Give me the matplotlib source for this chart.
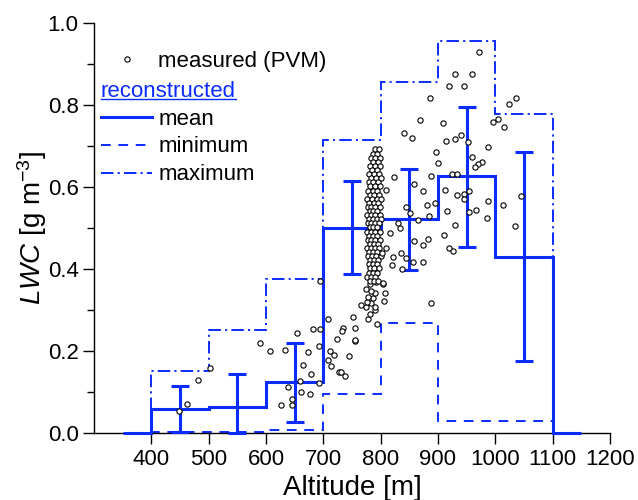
import matplotlib
matplotlib.use('Agg')
import matplotlib.pyplot as plt
from matplotlib.lines import Line2D
from matplotlib.ticker import MultipleLocator
from matplotlib.transforms import IdentityTransform

plt.rcParams['font.family'] = ['Liberation Sans', 'DejaVu Sans']
plt.rcParams['mathtext.fontset'] = 'custom'
plt.rcParams['mathtext.rm'] = 'Liberation Sans'
plt.rcParams['mathtext.it'] = 'Liberation Sans:italic'
plt.rcParams['lines.scale_dashes'] = False

# reconstructed LWC per 100 m altitude bin
bin_edges = [400, 500, 600, 700, 800, 900, 1000, 1100]
bin_centers = [450, 550, 650, 750, 850, 950, 1050]
mean_lwc = [0.060, 0.065, 0.124, 0.501, 0.522, 0.627, 0.431]
min_lwc = [0.002, 0.002, 0.007, 0.096, 0.268, 0.029, 0.029]
max_lwc = [0.153, 0.252, 0.376, 0.715, 0.857, 0.958, 0.779]
err_top = [0.115, 0.145, 0.220, 0.615, 0.644, 0.795, 0.686]
err_bottom = [0.004, 0.000, 0.028, 0.389, 0.398, 0.455, 0.176]
mean_pad = (350, 1150)  # mean curve drawn at zero outside the bins

# measured LWC (PVM) as (altitude, lwc) pairs
pvm_points = [
    # below 750 m
    (448, 0.055), (462, 0.071), (482, 0.131), (503, 0.160), (590, 0.220),
    (607, 0.201), (634, 0.204), (654, 0.244), (673, 0.198), (682, 0.254),
    (694, 0.254), (694, 0.371), (708, 0.278), (723, 0.231), (693, 0.214),
    (664, 0.167), (678, 0.145), (659, 0.128), (639, 0.112), (661, 0.100),
    (677, 0.096), (645, 0.083), (627, 0.070), (645, 0.070), (693, 0.123),
    (712, 0.201), (719, 0.191), (709, 0.180), (714, 0.164), (727, 0.149),
    (730, 0.150), (738, 0.139), (745, 0.189), (755, 0.225), (756, 0.228),
    (735, 0.256), (733, 0.250), (755, 0.258), (751, 0.284),
    # lower tail of the dense profile
    (765, 0.313), (775, 0.309), (778, 0.280), (781, 0.290), (794, 0.266),
    (791, 0.301), (791, 0.309), (784, 0.317), (777, 0.321), (787, 0.329),
    (806, 0.323), (778, 0.333), (791, 0.341), (807, 0.341), (784, 0.347),
    (774, 0.351), (781, 0.364), (792, 0.370), (804, 0.364), (888, 0.317),
    # dense profile around 790 m
    (791, 0.693), (797, 0.693), (786, 0.682), (794, 0.682),
    (783, 0.672), (790, 0.672), (798, 0.672), (787, 0.662), (795, 0.662),
    (782, 0.652), (791, 0.652), (799, 0.652), (785, 0.642), (793, 0.642),
    (780, 0.632), (788, 0.632), (797, 0.632), (784, 0.622), (792, 0.622),
    (800, 0.622), (779, 0.612), (787, 0.612), (795, 0.612), (782, 0.602),
    (790, 0.602), (798, 0.602), (778, 0.592), (786, 0.592), (794, 0.592),
    (781, 0.582), (789, 0.582), (797, 0.582), (777, 0.572), (785, 0.572),
    (793, 0.572), (801, 0.572), (780, 0.562), (788, 0.562), (796, 0.562),
    (778, 0.552), (784, 0.552), (791, 0.552), (799, 0.552), (781, 0.542),
    (787, 0.542), (794, 0.542), (777, 0.532), (783, 0.532), (790, 0.532),
    (798, 0.532), (780, 0.522), (786, 0.522), (793, 0.522), (800, 0.522),
    (778, 0.512), (784, 0.512), (791, 0.512), (797, 0.512), (781, 0.502),
    (787, 0.502), (794, 0.502), (777, 0.492), (783, 0.492), (790, 0.492),
    (798, 0.492), (780, 0.482), (786, 0.482), (793, 0.482), (778, 0.472),
    (784, 0.472), (791, 0.472), (799, 0.472), (781, 0.462), (788, 0.462),
    (795, 0.462), (777, 0.452), (784, 0.452), (790, 0.452), (797, 0.452),
    (780, 0.442), (787, 0.442), (794, 0.442), (778, 0.432), (785, 0.432),
    (792, 0.432), (800, 0.432), (781, 0.422), (788, 0.422), (795, 0.422),
    (779, 0.412), (786, 0.412), (793, 0.412), (782, 0.402), (789, 0.402),
    (797, 0.402), (780, 0.392), (787, 0.392), (794, 0.392), (777, 0.382),
    (784, 0.382), (791, 0.382), (781, 0.372), (788, 0.372), (796, 0.372),
    # 800-900 m
    (824, 0.624), (810, 0.593), (859, 0.607), (845, 0.553), (852, 0.537),
    (830, 0.512), (833, 0.500), (816, 0.488), (859, 0.470), (810, 0.451),
    (836, 0.439), (822, 0.431), (845, 0.427), (856, 0.419), (819, 0.410),
    (838, 0.401), (804, 0.366), (803, 0.439), (874, 0.417), (840, 0.732),
    (855, 0.720), (869, 0.763), (886, 0.818), (897, 0.686), (887, 0.628),
    (873, 0.592), (880, 0.558), (895, 0.562), (885, 0.531), (866, 0.520),
    (873, 0.460), (883, 0.475),
    # above 900 m
    (971, 0.930), (930, 0.876), (959, 0.876), (919, 0.848), (946, 0.847),
    (1023, 0.802), (1036, 0.819), (909, 0.758), (996, 0.759), (1004, 0.766),
    (1015, 0.748), (914, 0.713), (929, 0.719), (940, 0.727), (953, 0.710),
    (987, 0.699), (900, 0.659), (960, 0.673), (977, 0.662), (970, 0.657),
    (965, 0.650), (924, 0.632), (934, 0.632), (912, 0.594), (934, 0.581),
    (946, 0.583), (954, 0.592), (945, 0.571), (988, 0.566), (1014, 0.556),
    (1044, 0.578), (915, 0.541), (954, 0.539), (966, 0.545), (986, 0.526),
    (930, 0.509), (1034, 0.506), (911, 0.484), (919, 0.451), (927, 0.445),
]

BLUE = '#0a2cff'
pvm_alt = [p[0] for p in pvm_points]
pvm_lwc = [p[1] for p in pvm_points]

fig = plt.figure(figsize=(6.38, 5.0), dpi=100)
ax = fig.add_axes([0.1473, 0.1334, 0.8088, 0.8200])

mean_edges = [mean_pad[0]] + bin_edges + [mean_pad[1]]
mean_vals = [0.0] + mean_lwc + [0.0]
ax.stairs(mean_vals, mean_edges, baseline=0, color=BLUE, lw=2.2,
          clip_on=False, zorder=3)
dash_min = (0, (7, 5.5))
dash_max = (0, (9, 3, 1.5, 3))
ax.stairs(min_lwc, bin_edges, baseline=0, color=BLUE, lw=1.4,
          linestyle=dash_min, clip_on=False, zorder=2)
ax.stairs(max_lwc, bin_edges, baseline=0, color=BLUE, lw=1.4,
          linestyle=dash_max, clip_on=False, zorder=2)

lo = [m - b for m, b in zip(mean_lwc, err_bottom)]
hi = [t - m for m, t in zip(mean_lwc, err_top)]
eb = ax.errorbar(bin_centers, mean_lwc, yerr=[lo, hi], fmt='none',
                 ecolor=BLUE, elinewidth=2.2, capsize=6.5, capthick=2.2,
                 zorder=4)
for art in list(eb.lines[1]) + list(eb.lines[2]):
    art.set_clip_on(False)

ax.plot(pvm_alt, pvm_lwc, 'o', ls='none', ms=3.8, mfc='white', mec='black',
        mew=0.8, zorder=5)

ax.set_xlim(300, 1200)
ax.set_ylim(0, 1.0)
ax.set_xticks(range(400, 1201, 100))
ax.yaxis.set_major_locator(MultipleLocator(0.2))
ax.yaxis.set_minor_locator(MultipleLocator(0.1))
ax.yaxis.set_major_formatter('{x:.1f}')
ax.tick_params(direction='out', length=8, width=1, labelsize=16, pad=3)
ax.tick_params(which='minor', direction='out', length=5, width=1)
for s in ['top', 'right']:
    ax.spines[s].set_visible(False)
for s in ['left', 'bottom']:
    ax.spines[s].set_linewidth(1.0)

ax.set_xlabel('Altitude [m]', fontsize=20, labelpad=4)
ax.set_ylabel(r'$\it{LWC}$ [g m$^{-3}$]', fontsize=20, labelpad=-1)

# legend
pvm_h = Line2D([], [], marker='o', ls='none', ms=3.8, mfc='white',
               mec='black', mew=0.8)
leg1 = ax.legend([pvm_h], ['measured (PVM)'], loc='upper left',
                 bbox_to_anchor=(0.0136, 0.933), frameon=False, fontsize=16,
                 handlelength=2.3, handletextpad=0.27, borderpad=0,
                 borderaxespad=0)
ax.add_artist(leg1)
mean_h = Line2D([], [], color=BLUE, lw=2.2)
min_h = Line2D([], [], color=BLUE, lw=1.4, ls=dash_min)
max_h = Line2D([], [], color=BLUE, lw=1.4, ls=dash_max)
leg2 = ax.legend([mean_h, min_h, max_h], ['mean', 'minimum', 'maximum'],
                 title='reconstructed', title_fontsize=16, alignment='left',
                 loc='upper left', bbox_to_anchor=(0.0136, 0.860),
                 frameon=False, fontsize=16, handlelength=2.3,
                 handletextpad=0.27, labelspacing=0.31, borderpad=0,
                 borderaxespad=0)
leg2.get_title().set_color(BLUE)

fig.canvas.draw()
bb = leg2.get_title().get_window_extent(fig.canvas.get_renderer())
fig.add_artist(Line2D([bb.x0, bb.x1], [bb.y0 + 3, bb.y0 + 3],
                      transform=IdentityTransform(), color=BLUE, lw=1.0))

fig.savefig('out.png', dpi=100)
